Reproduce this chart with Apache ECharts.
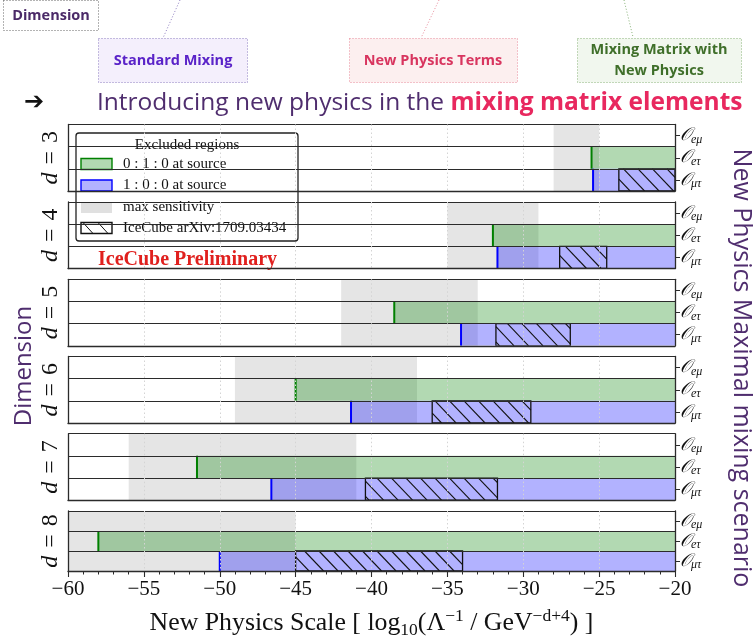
<!DOCTYPE html>
<html>
<head>
<meta charset="utf-8">
<script src="https://cdn.jsdelivr.net/npm/echarts@6/dist/echarts.min.js"></script>
<style>
  html, body { margin: 0; padding: 0; background: #ffffff; }
  #chart { width: 756px; height: 640px; }
</style>
</head>
<body>
<div id="chart"></div>
<script>
// Operator dimensions, one panel each
const dims = [3, 4, 5, 6, 7, 8];
// Operator rows in each panel (top to bottom)
const operators = ['eμ', 'eτ', 'μτ'];
// Max sensitivity band [lo, hi] per dimension
const sensLo = [-28, -35, -42, -49, -56, -60];
const sensHi = [-25, -29, -33, -37, -41, -45];
// Exclusion limits: 0:1:0 at source (O_eτ) and 1:0:0 at source (O_μτ)
const limitEtau = [-25.5, -32, -38.5, -45, -51.5, -58];
const limitMutau = [-25.4, -31.7, -34.1, -41.35, -46.6, -50];
// IceCube arXiv:1709.03434 excluded range on O_μτ
const iceLo = [-23.7, -27.6, -31.8, -36, -40.4, -45];
const iceHi = [-20, -24.5, -26.9, -29.5, -31.7, -34];
// x-axis range
const X_MIN = -60, X_MAX = -20, X_STEP = 5;

const SERIF = '"Liberation Serif", "DejaVu Serif", serif';
const SANS = '"Open Sans", Lato, sans-serif';
const FRAME = '#2b2b2b';

const gridTops = [124.5, 202, 279.3, 356.5, 433.7, 511];
const GRID_H = 66.5;

function bandItem(params, api) {
  const cs = params.coordSys;
  const x0 = api.coord([api.value(0), 0])[0];
  const x1 = api.coord([api.value(1), 0])[0];
  return { type: 'rect', shape: { x: x0, y: cs.y, width: x1 - x0, height: cs.height },
           style: { fill: '#e5e5e5' } };
}

function barItem(fill, edge) {
  return function (params, api) {
    const row = api.value(2);
    const p0 = api.coord([api.value(0), row]);
    const p1 = api.coord([api.value(1), row]);
    const h = api.size([0, 1])[1];
    const top = p0[1] - h / 2;
    return { type: 'group', children: [
      { type: 'rect', shape: { x: p0[0], y: top, width: p1[0] - p0[0], height: h }, style: { fill: fill } },
      { type: 'line', shape: { x1: p0[0], y1: top, x2: p0[0], y2: top + h }, style: { stroke: edge, lineWidth: 2 } }
    ] };
  };
}

// diagonal hatching "\\" inside a box
function hatchLines(x0, x1, top, h, spacing, r) {
  const out = [];
  const kStart = Math.floor((x0 - r * h) / spacing) - 1;
  const kEnd = Math.ceil(x1 / spacing) + 1;
  for (let k = kStart; k <= kEnd; k++) {
    const c = k * spacing;
    const t1 = Math.max(0, (x0 - c) / r);
    const t2 = Math.min(h, (x1 - c) / r);
    if (t2 - t1 > 0.5) {
      out.push({ type: 'line', shape: { x1: c + r * t1, y1: top + t1, x2: c + r * t2, y2: top + t2 },
                 style: { stroke: '#111', lineWidth: 1.1 } });
    }
  }
  return out;
}

function hatchItem(params, api) {
  const row = api.value(2);
  const p0 = api.coord([api.value(0), row]);
  const p1 = api.coord([api.value(1), row]);
  const h = api.size([0, 1])[1];
  const top = p0[1] - h / 2;
  const children = hatchLines(p0[0], p1[0], top, h, 14.5, 0.95);
  children.push({ type: 'rect', shape: { x: p0[0], y: top, width: p1[0] - p0[0], height: h },
                  style: { fill: 'none', stroke: '#111', lineWidth: 1.3 } });
  return { type: 'group', children: children };
}

const grids = [], xAxes = [], yAxes = [], series = [];
dims.forEach((d, i) => {
  const last = i === dims.length - 1;
  grids.push({ left: 68, right: 81, top: gridTops[i], height: GRID_H });
  xAxes.push({
    type: 'value', gridIndex: i, min: X_MIN, max: X_MAX, interval: X_STEP, z: 5,
    axisLine: { show: true, onZero: false, lineStyle: { color: FRAME, width: 1.3 } },
    axisTick: { show: last, length: 6, lineStyle: { color: FRAME, width: 1.1 } },
    minorTick: { show: last, splitNumber: 5, length: 3.5, lineStyle: { color: FRAME, width: 1 } },
    splitLine: { show: true, lineStyle: { color: '#d4d4d4', type: [1.5, 2.5], width: 1 } },
    axisLabel: { show: last, margin: 8, fontFamily: SERIF, fontSize: 21, color: '#111',
                 formatter: v => String(v).replace('-', '\u2212') },
    name: last ? '{t|New Physics Scale [ log}{sub|10}{t|(Λ}{sup|\u22121}{t| / GeV}{sup|\u2212d+4}{t|) ]}' : '',
    nameLocation: 'middle', nameGap: 36,
    nameTextStyle: { rich: {
      t: { fontFamily: SERIF, fontSize: 25.8, color: '#111', lineHeight: 32, verticalAlign: 'middle' },
      sub: { fontFamily: SERIF, fontSize: 17.5, color: '#111', lineHeight: 15, verticalAlign: 'bottom' },
      sup: { fontFamily: SERIF, fontSize: 17.5, color: '#111', lineHeight: 15, verticalAlign: 'top' }
    } }
  });
  // right axis: operator rows
  yAxes.push({
    type: 'category', gridIndex: i, data: operators, inverse: true, position: 'right', z: 5,
    axisLine: { show: true, lineStyle: { color: FRAME, width: 1.3 } },
    axisTick: { show: true, alignWithLabel: true, length: 5, lineStyle: { color: FRAME, width: 1 } },
    splitLine: { show: true, lineStyle: { color: FRAME, width: 1.1 } },
    axisLabel: { margin: 5, formatter: v => '{o|𝒪}{s|' + v + '}',
      rich: {
        o: { fontFamily: SERIF, fontStyle: 'italic', fontSize: 18, color: '#111' },
        s: { fontFamily: SERIF, fontStyle: 'italic', fontSize: 12, color: '#111', padding: [8, 0, 0, 0] }
      } }
  });
  // left axis: panel frame and dimension label
  yAxes.push({
    type: 'category', gridIndex: i, data: operators, inverse: true, position: 'left', z: 5,
    axisLine: { show: true, lineStyle: { color: FRAME, width: 1.3 } },
    axisTick: { show: false }, axisLabel: { show: false }, splitLine: { show: false },
    name: '{d|d}{e|\u2004=\u2004' + d + '}', nameLocation: 'middle', nameRotate: 90, nameGap: 5,
    nameTextStyle: { rich: {
      d: { fontFamily: SERIF, fontStyle: 'italic', fontSize: 24, color: '#111' },
      e: { fontFamily: SERIF, fontSize: 24, color: '#111' }
    } }
  });
  const xi = i, yi = 2 * i;
  series.push({ type: 'custom', name: 'max sensitivity', xAxisIndex: xi, yAxisIndex: yi, z: 1,
    renderItem: bandItem, data: [[sensLo[i], sensHi[i]]], clip: true, silent: true });
  series.push({ type: 'custom', name: '0 : 1 : 0 at source', xAxisIndex: xi, yAxisIndex: yi, z: 2,
    renderItem: barItem('rgba(0,128,0,0.3)', '#008000'), data: [[limitEtau[i], X_MAX, 1]], clip: true, silent: true });
  series.push({ type: 'custom', name: '1 : 0 : 0 at source', xAxisIndex: xi, yAxisIndex: yi, z: 2,
    renderItem: barItem('rgba(0,0,255,0.3)', '#0000ff'), data: [[limitMutau[i], X_MAX, 2]], clip: true, silent: true });
  series.push({ type: 'custom', name: 'IceCube arXiv:1709.03434', xAxisIndex: xi, yAxisIndex: yi, z: 3,
    renderItem: hatchItem, data: [[iceLo[i], iceHi[i], 2]], clip: true, silent: true });
});

// legend box drawn as graphic elements
const LX = 76, LY = 133;
const LEG_FONT = '15px ' + SERIF;
const legendRows = [
  { label: '0 : 1 : 0 at source', y: 164, fill: 'rgba(0,128,0,0.3)', stroke: '#008000' },
  { label: '1 : 0 : 0 at source', y: 185.5, fill: 'rgba(0,0,255,0.3)', stroke: '#0000ff' },
  { label: 'max sensitivity', y: 207.5, fill: '#e0e0e0', stroke: null },
  { label: 'IceCube arXiv:1709.03434', y: 228, fill: '#ffffff', stroke: '#111', hatch: true }
];
const legendEls = [
  { type: 'rect', shape: { x: LX, y: LY, width: 222, height: 108, r: 3 },
    style: { fill: '#ffffff', stroke: '#222', lineWidth: 1.3 } },
  { type: 'text', x: 187, y: 145, style: { text: 'Excluded regions', font: LEG_FONT,
    fill: '#111', align: 'center', verticalAlign: 'middle' } }
];
legendRows.forEach(r => {
  legendEls.push({ type: 'rect', shape: { x: 81, y: r.y - 5.5, width: 31, height: 11 },
    style: { fill: r.fill, stroke: r.stroke || 'none', lineWidth: r.stroke ? 1.4 : 0 } });
  if (r.hatch) {
    legendEls.push({ type: 'line', shape: { x1: 83, y1: r.y - 5.5, x2: 93, y2: r.y + 5.5 }, style: { stroke: '#111', lineWidth: 1 } });
    legendEls.push({ type: 'line', shape: { x1: 98, y1: r.y - 5.5, x2: 108, y2: r.y + 5.5 }, style: { stroke: '#111', lineWidth: 1 } });
  }
  legendEls.push({ type: 'text', x: 123, y: r.y, style: { text: r.label, font: LEG_FONT,
    fill: '#111', verticalAlign: 'middle' } });
});

function box(x, y, w, h, fill, stroke) {
  return { type: 'rect', shape: { x: x, y: y, width: w, height: h },
    style: { fill: fill, stroke: stroke, lineWidth: 1, lineDash: [1, 2] } };
}
function dotted(x1, y1, x2, y2, color) {
  return { type: 'line', shape: { x1: x1, y1: y1, x2: x2, y2: y2 },
    style: { stroke: color, lineWidth: 1, lineDash: [1, 2] } };
}
function label(x, y, text, color, size) {
  return { type: 'text', x: x, y: y, style: { text: text, font: 'bold ' + size + 'px ' + SANS,
    fill: color, align: 'center', verticalAlign: 'middle', lineHeight: 21 } };
}

const headerEls = [
  dotted(180, 0, 163, 38, '#8d7cc0'),
  dotted(439, 0, 421, 38, '#e88a9a'),
  dotted(624, 0, 633, 37, '#8ab37a'),
  box(3.5, 0.5, 95, 30, '#ffffff', '#666666'),
  label(51, 16, 'Dimension', '#4b2a68', 14.5),
  box(98.5, 38.5, 149, 44, '#f4effc', '#8d7cc0'),
  label(173, 61, 'Standard Mixing', '#5a23c8', 14.5),
  box(349.5, 38.5, 168, 44, '#fcefef', '#e88a9a'),
  label(433, 61, 'New Physics Terms', '#d8355f', 14.5),
  box(577.5, 38.5, 164, 44, '#f1f7ee', '#8ab37a'),
  label(659, 60.5, 'Mixing Matrix with\nNew Physics', '#3f6f2a', 14.5),
  { type: 'text', x: 24, y: 103, style: { text: '➔', font: 'bold 24px "DejaVu Sans", sans-serif',
    fill: '#111', verticalAlign: 'middle' } },
  { type: 'text', x: 97, y: 103, style: {
    text: '{a|Introducing new physics in the }{b|mixing matrix elements}', verticalAlign: 'middle',
    rich: {
      a: { font: '24.5px ' + SANS, fill: '#4f2d6e' },
      b: { font: 'bold 24.5px ' + SANS, fill: '#e8285f' }
    } } },
  { type: 'text', x: 24, y: 366, rotation: Math.PI / 2, style: { text: 'Dimension',
    font: '24px ' + SANS, fill: '#4f2d6e', align: 'center', verticalAlign: 'middle' } },
  { type: 'text', x: 741, y: 368, rotation: -Math.PI / 2, style: { text: 'New Physics Maximal mixing scenario',
    font: '25px ' + SANS, fill: '#4f2d6e', align: 'center', verticalAlign: 'middle' } },
  { type: 'text', x: 98, y: 260, style: { text: 'IceCube Preliminary', font: 'bold 20px ' + SERIF,
    fill: '#e0201e', verticalAlign: 'middle' } }
];

const chart = echarts.init(document.getElementById('chart'), null, { renderer: 'canvas' });
chart.setOption({
  animation: false,
  backgroundColor: '#ffffff',
  grid: grids,
  xAxis: xAxes,
  yAxis: yAxes,
  series: series,
  graphic: { elements: [
    { type: 'group', z: 100, children: legendEls },
    { type: 'group', z: 100, children: headerEls }
  ] }
});
</script>
</body>
</html>
